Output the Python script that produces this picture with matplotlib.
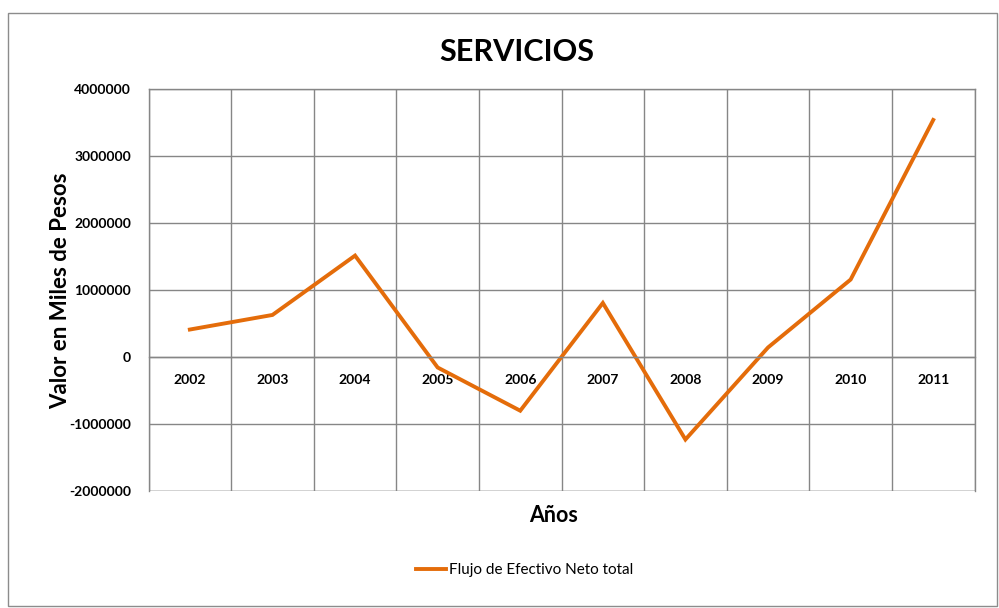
import matplotlib
matplotlib.use("Agg")
import matplotlib.pyplot as plt
from matplotlib.patches import Rectangle
import numpy as np

# datos
anios = ['2002', '2003', '2004', '2005', '2006', '2007', '2008', '2009', '2010', '2011']
flujo = [413000, 631000, 1518000, -154000, -800000, 810000, -1230000, 145000, 1160000, 3545000]
yticks = [-2000000, -1000000, 0, 1000000, 2000000, 3000000, 4000000]

plt.rcParams['font.family'] = ['Lato', 'DejaVu Sans']
plt.rcParams['font.weight'] = 'bold'

fig = plt.figure(figsize=(9.99, 6.08), dpi=100)
ax = fig.add_axes([0.1487, 0.1924, 0.8268, 0.6604])

# el eje x cruza en cero (hacerlo antes de poner las etiquetas)
ax.spines['bottom'].set_position(('data', 0))

x = np.arange(len(anios))
ax.plot(x, flujo, color='#E46C0A', lw=2.8, solid_joinstyle='miter',
        label='Flujo de Efectivo Neto total')

ax.set_xlim(-0.5, len(anios) - 0.5)
ax.set_ylim(-2000000, 4000000)
ax.set_yticks(yticks)
ax.set_yticklabels([str(v) for v in yticks])
ax.set_xticks(x)
ax.set_xticklabels(anios)
ax.set_xticks(np.arange(-0.5, len(anios)), minor=True)

for s in ['top', 'right', 'left', 'bottom']:
    ax.spines[s].set_color('#868686')
    ax.spines[s].set_linewidth(1)
ax.tick_params(axis='both', which='both', length=0, labelsize=10)
ax.tick_params(axis='x', pad=12)
ax.tick_params(axis='y', pad=12.5)

ax.grid(axis='y', which='major', color='#868686', lw=1)
ax.grid(axis='x', which='minor', color='#868686', lw=1)
ax.set_axisbelow(True)
# linea inferior del area
ax.axhline(-2000000, color='#868686', lw=1)

ax.set_ylabel('Valor en Miles de Pesos', fontsize=16, fontweight='bold')
ax.yaxis.set_label_coords(-0.094, 0.5)
fig.text(0.5537, 1 - 515 / 608, 'Años', fontsize=15.5, fontweight='bold', ha='center', va='center')
fig.text(0.5175, 1 - 52 / 608, 'SERVICIOS', fontsize=22, fontweight='bold', ha='center', va='center')

fig.legend(loc='center', bbox_to_anchor=(0.525, 1 - 570 / 608), frameon=False,
           prop={'size': 11, 'weight': 'normal'}, handlelength=2.0, handletextpad=0.2)

fig.patches.append(Rectangle((8 / 999, 1 - 606 / 608), 989 / 999, 593 / 608,
                             transform=fig.transFigure, fill=False, edgecolor='#8c8c8c', lw=1))

fig.savefig('out.png', dpi=100)
